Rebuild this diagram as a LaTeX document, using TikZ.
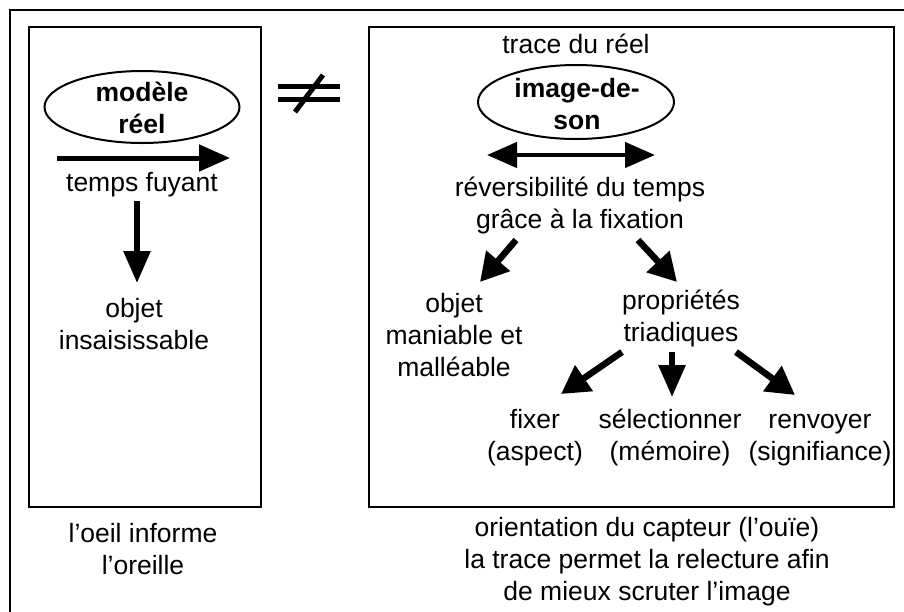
\documentclass[tikz,border=0pt]{standalone}
\usepackage{fontspec}
\setmainfont{Liberation Sans}
\usetikzlibrary{arrows.meta,shapes.geometric}
\newcommand{\lnst}{\rule[-9.6pt]{0pt}{32pt}}
\tikzset{
  txt/.style={align=center,inner sep=0pt,font=\fontsize{26.5}{32}\selectfont},
  btxt/.style={txt,font=\fontsize{26.5}{32}\selectfont\bfseries},
  frame/.style={draw,line width=2pt},
  oval/.style={draw,line width=2pt,ellipse,inner sep=0pt},
  bigarrow/.style={line width=5pt,-{Triangle[length=31pt,width=26pt]}},
  vertarrow/.style={line width=6pt,-{Triangle[length=32pt,width=26pt]}},
  dblarrow/.style={line width=4.5pt,{Triangle[length=30pt,width=25pt]}-{Triangle[length=30pt,width=25pt]}},
  diagarrow/.style={line width=6.5pt,-{Triangle[length=28pt,width=30pt]}},
  neq/.style={line width=5pt}
}
\begin{document}
\begin{tikzpicture}[x=1pt,y=-1pt]
\useasboundingbox (0,0) rectangle (904,611);
\clip (0,0) rectangle (904,611);
% outer frame (cropped at right and bottom)
\draw[frame] (10,10) rectangle (920,630);
% boxes
\draw[frame] (29,27) rectangle (261,507);
\draw[frame] (369,27) rectangle (894,507);

% left column
\node[oval,minimum width=195pt,minimum height=72pt] (modele) at (142,107) {};
\node[btxt] (modeletxt) at (142,111) {\lnst modèle\\\lnst réel};
\coordinate (ta) at (57,158);
\coordinate (tb) at (230,158);
\draw[bigarrow] (ta) -- (tb);
\node[txt] (temps) at (142,185) {\lnst temps fuyant};
\coordinate (da) at (137,201);
\coordinate (db) at (137,283);
\draw[vertarrow] (da) -- (db);
\node[txt] (objet1) at (134,327) {\lnst objet\\\lnst insaisissable};
\node[txt] (oeil) at (143,552) {\lnst l’oeil informe\\\lnst l’oreille};

% not-equal sign
\coordinate (n1a) at (278,86);
\coordinate (n1b) at (340,86);
\coordinate (n2a) at (278,99);
\coordinate (n2b) at (340,99);
\coordinate (n3a) at (295,112);
\coordinate (n3b) at (323,75);
\draw[neq] (n1a) -- (n1b);
\draw[neq] (n2a) -- (n2b);
\draw[neq] (n3a) -- (n3b);

% right column
\node[txt] (trace) at (576,47) {\lnst trace du réel};
\node[oval,minimum width=196pt,minimum height=74pt] (image) at (576,102) {};
\node[btxt] (imagetxt) at (577,107) {\lnst image-de-\\\lnst son};
\coordinate (ra) at (487,155);
\coordinate (rb) at (655,155);
\draw[dblarrow] (ra) -- (rb);
\node[txt] (revers) at (580,206) {\lnst réversibilité du temps\\\lnst grâce à la fixation};
\coordinate (la) at (516,240);
\coordinate (lb) at (480,282);
\draw[diagarrow] (la) -- (lb);
\coordinate (pa) at (638,240);
\coordinate (pb) at (677,282);
\draw[diagarrow] (pa) -- (pb);
\node[txt] (objet2) at (454,338) {\lnst objet\\\lnst maniable et\\\lnst malléable};
\node[txt] (prop) at (681,319) {\lnst propriétés\\\lnst triadiques};
\coordinate (fa) at (622,352);
\coordinate (fb) at (561,394);
\draw[diagarrow] (fa) -- (fb);
\coordinate (sa) at (672,352);
\coordinate (sb) at (672,397);
\draw[vertarrow] (sa) -- (sb);
\coordinate (va) at (736,352);
\coordinate (vb) at (795,395);
\draw[diagarrow] (va) -- (vb);
\node[txt] (fixer) at (535,438) {\lnst fixer\\\lnst (aspect)};
\node[txt] (select) at (670,438) {\lnst sélectionner\\\lnst (mémoire)};
\node[txt] (renv) at (820,438) {\lnst renvoyer\\\lnst (signifiance)};
\node[txt] (orient) at (647,562) {\lnst orientation du capteur (l’ouïe)\\\lnst la trace permet la relecture afin\\\lnst de mieux scruter l’image};
\end{tikzpicture}
\end{document}
